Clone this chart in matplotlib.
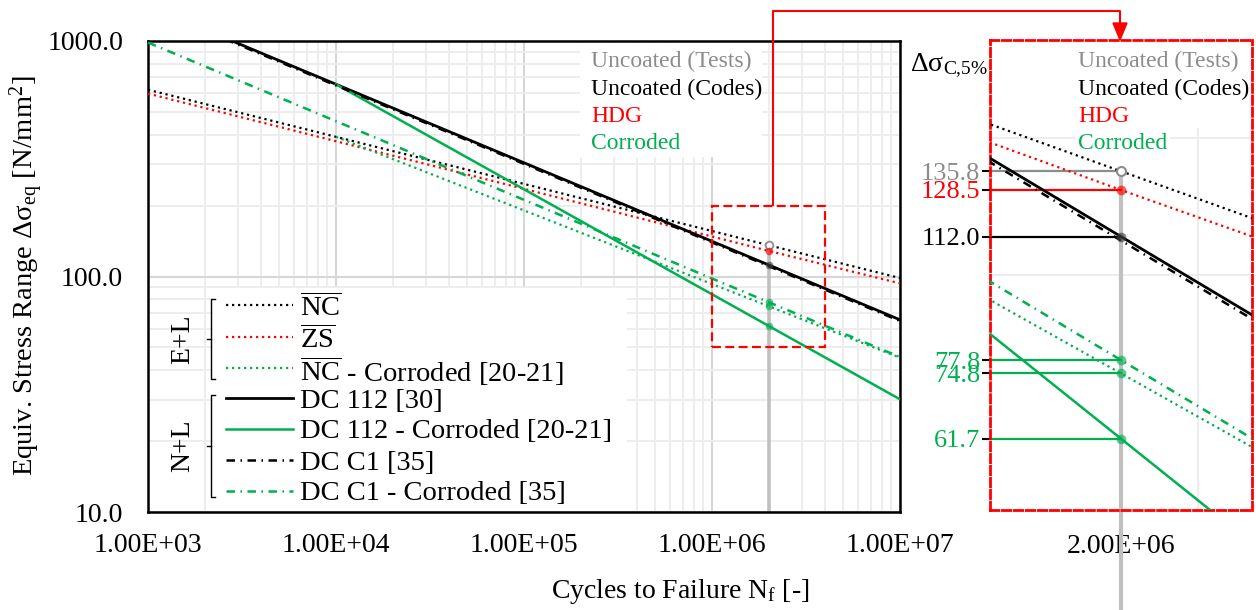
import matplotlib.pyplot as plt
from matplotlib.lines import Line2D
from matplotlib.patches import Rectangle, Polygon
from matplotlib.ticker import FixedLocator, NullFormatter

plt.rcParams['font.family'] = ['Liberation Serif', 'DejaVu Serif']
plt.rcParams['mathtext.fontset'] = 'custom'
plt.rcParams['mathtext.rm'] = 'Liberation Serif'
plt.rcParams['mathtext.it'] = 'Liberation Serif:italic'
plt.rcParams['mathtext.bf'] = 'Liberation Serif:bold'

# S-N curves (straight lines in log-log)
n_full = [1e3, 2e6, 1e7]
n_from_1e4 = [1e4, 2e6, 1e7]
nc_uncoated = [621, 135.8, 98.5]
zs_hdg = [598, 128.5, 93.5]
nc_corroded = [392, 74.8, 45.2]
dc112 = [1411, 112.0, 65.5]
dc112_corroded = [655, 61.7, 30.1]
dcc1 = [1395, 110.7, 64.7]
dcc1_corroded = [985, 77.8, 45.5]

# characteristic values at 2 million cycles
n_ref = 2e6
ref_values = [135.8, 128.5, 112.0, 77.8, 74.8, 61.7]
ref_labels = ['135.8', '128.5', '112.0', '77.8', '74.8', '61.7']

GREEN = '#00b050'
RED = '#ff0000'
GREY = '#8c8c8c'
ref_colors = [GREY, RED, 'black', GREEN, GREEN, GREEN]

DOT = (0, (1, 1.7))
DASHDOT = (0, (3.4, 2.2, 0.6, 2.2))

curves = [
    (n_full, nc_uncoated, 'black', DOT, 1.6, r'$\overline{\mathrm{NC}}$'),
    (n_full, zs_hdg, RED, DOT, 1.6, r'$\overline{\mathrm{ZS}}$'),
    (n_from_1e4, nc_corroded, GREEN, DOT, 1.6, r'$\overline{\mathrm{NC}}$ - Corroded [20-21]'),
    (n_full, dc112, 'black', '-', 2.0, 'DC 112 [30]'),
    (n_from_1e4, dc112_corroded, GREEN, '-', 1.8, 'DC 112 - Corroded [20-21]'),
    (n_full, dcc1, 'black', DASHDOT, 1.8, 'DC C1 [35]'),
    (n_full, dcc1_corroded, GREEN, DASHDOT, 1.8, 'DC C1 - Corroded [35]'),
]

categories = ['Uncoated (Tests)', 'Uncoated (Codes)', 'HDG', 'Corroded']
category_colors = [GREY, 'black', RED, GREEN]

W, H = 1256, 610
fig = plt.figure(figsize=(W / 100, H / 100), dpi=100)


def px(x, y):
    return x / W, 1 - y / H


FS = 20

# ---------------- main chart ----------------
ax = fig.add_axes([148 / W, 1 - 512 / H, (900 - 148) / W, (512 - 41) / H])
ax.set_xscale('log')
ax.set_yscale('log')
ax.set_xlim(1e3, 1e7)
ax.set_ylim(10, 1000)
ax.set_axisbelow(True)

for n, s, c, ls, lw, lab in curves:
    ax.plot(n, s, color=c, linestyle=ls, lw=lw, zorder=3)

ax.plot([n_ref, n_ref], [ref_values[0], 10], color='#c0c0c0', lw=2.6, zorder=1.8)
ax.plot(n_ref, ref_values[0], 'o', mfc='white', mec=GREY, mew=1.3, ms=5.5, zorder=5)
for v, c in zip(ref_values[1:], ref_colors[1:]):
    fc = '#404040' if c == 'black' else c
    ax.plot(n_ref, v, 'o', color=fc, alpha=0.65, ms=5.5, mew=0, zorder=5)

# zoom window
ax.add_patch(Rectangle((1e6, 50), 3e6, 150, fill=False, edgecolor=RED, lw=1.6,
                       linestyle=(0, (4, 2)), zorder=4))

ax.set_xticks([1e3, 1e4, 1e5, 1e6, 1e7],
              labels=['1.00E+03', '1.00E+04', '1.00E+05', '1.00E+06', '1.00E+07'])
ax.set_yticks([10, 100, 1000], labels=['10.0', '100.0', '1000.0'])
ax.xaxis.set_minor_formatter(NullFormatter())
ax.yaxis.set_minor_formatter(NullFormatter())
ax.tick_params(which='both', length=0, labelsize=FS)
ax.tick_params(axis='x', pad=15)
ax.tick_params(axis='y', pad=18)
ax.grid(which='major', color='#d6d6d6', lw=1.5)
ax.grid(which='minor', color='#ececec', lw=1.3)
for sp in ax.spines.values():
    sp.set_linewidth(1.8)

# white backgrounds behind the text blocks
ax.add_patch(Rectangle(px(580, 157), 182 / W, 114 / H, transform=fig.transFigure,
                       facecolor='white', edgecolor='none', zorder=1))
ax.add_patch(Rectangle(px(213, 511), 414 / W, 223 / H, transform=fig.transFigure,
                       facecolor='white', edgecolor='none', zorder=1))

# legend drawn by hand (grouped with brackets)
row_y = [305, 337, 368, 398, 429, 460, 491]
for (n, s, c, ls, lw, lab), y in zip(curves, row_y):
    fig.add_artist(Line2D([226 / W, 293 / W], [1 - y / H] * 2, color=c,
                          linestyle=ls, lw=lw))
    fig.text(300 / W, 1 - y / H, lab, fontsize=20.5, ha='left', va='center_baseline')

for label, y0, y1, ym in [('E+L', 299, 379, 339), ('N+L', 395, 497, 446)]:
    fig.add_artist(Line2D([215 / W, 211 / W, 211 / W, 215 / W],
                          [1 - y0 / H, 1 - y0 / H, 1 - y1 / H, 1 - y1 / H],
                          color='black', lw=1.0))
    fig.add_artist(Line2D([207 / W, 211 / W], [1 - ym / H] * 2, color='black', lw=1.0))
    fig.text(183 / W, 1 - ym / H, label, fontsize=FS, rotation=90,
             ha='center', va='center')

for i, (cat, col) in enumerate(zip(categories, category_colors)):
    y = [61, 89, 116, 144][i]
    fig.text(591 / W, 1 - y / H, cat, color=col, fontsize=17, ha='left', va='center')
    fig.text(1078 / W, 1 - y / H, cat, color=col, fontsize=17, ha='left', va='center',
             zorder=6)

fig.text(27 / W, 1 - 276 / H,
         r'Equiv. Stress Range Δσ$_{\mathrm{eq}}$ [N/mm$^{\mathrm{2}}$]',
         fontsize=20.5, rotation=90, ha='center', va='center')
fig.text(680 / W, 1 - 592 / H, r'Cycles to Failure N$_{\mathrm{f}}$ [-]',
         fontsize=FS, ha='center', va='center')

# ---------------- zoomed inset ----------------
ax_in = fig.add_axes([990 / W, 1 - 510 / H, (1252 - 990) / W, (510 - 40) / H])
ax_in.set_xscale('log')
ax_in.set_yscale('log')
ax_in.set_xlim(1e6, 4e6)
ax_in.set_ylim(50, 200)
ax_in.set_axisbelow(True)

for n, s, c, ls, lw, lab in curves:
    ax_in.plot(n, s, color=c, linestyle=ls, lw=lw, zorder=3)

for v, c in zip(ref_values, ref_colors):
    ax_in.plot([1e6, n_ref], [v, v], color=c, lw=1.6, zorder=2.5)

ax_in.plot([n_ref, n_ref], [ref_values[0], 30], color='#c0c0c0', lw=3,
           zorder=1.8, clip_on=False)
ax_in.plot(n_ref, ref_values[0], 'o', mfc='white', mec=GREY, mew=1.5, ms=6.5, zorder=5)
for v, c in zip(ref_values[1:], ref_colors[1:]):
    fc = '#404040' if c == 'black' else c
    ax_in.plot(n_ref, v, 'o', color=fc, alpha=0.65, ms=7, mew=0, zorder=5)

ax_in.set_xticks([n_ref], labels=['2.00E+06'])
ax_in.set_yticks(ref_values, labels=ref_labels)
ax_in.xaxis.set_minor_locator(FixedLocator([3e6]))
ax_in.yaxis.set_minor_locator(FixedLocator([100, 150]))
ax_in.xaxis.set_minor_formatter(NullFormatter())
ax_in.yaxis.set_minor_formatter(NullFormatter())
ax_in.grid(which='minor', color='#ececec', lw=1.3)
ax_in.tick_params(axis='x', which='both', length=0, labelsize=FS, pad=17)
ax_in.tick_params(axis='y', which='minor', length=0)
ax_in.tick_params(axis='y', which='major', length=6, width=1.5, labelsize=19, pad=1)
for tick, c in zip(ax_in.yaxis.get_major_ticks(), ref_colors):
    tick.tick1line.set_color(c)
    tick.label1.set_color(c)
for sp in ax_in.spines.values():
    sp.set_color(RED)
    sp.set_linewidth(2)
    sp.set_linestyle((0, (3, 1.3)))

ax_in.add_patch(Rectangle(px(1075, 128), 173 / W, 85 / H, transform=fig.transFigure,
                          facecolor='white', edgecolor='none', zorder=1))
ax_in.add_patch(Rectangle(px(1075, 157), 95 / W, 30 / H, transform=fig.transFigure,
                          facecolor='white', edgecolor='none', zorder=1))

fig.text(910 / W, 1 - 66 / H, r'Δσ$_{\mathrm{C{,}5\%}}$', fontsize=FS,
         ha='left', va='center')

# connector from zoom window to the inset
xs = [773 / W, 773 / W, 1120 / W, 1120 / W]
ys = [1 - 205 / H, 1 - 11 / H, 1 - 11 / H, 1 - 24 / H]
fig.add_artist(Line2D(xs, ys, color=RED, lw=1.5))
fig.add_artist(Polygon([px(1113, 23), px(1127, 23), px(1120, 40)], closed=True,
                       facecolor=RED, edgecolor=RED, transform=fig.transFigure))

fig.savefig('out.png', dpi=100)
